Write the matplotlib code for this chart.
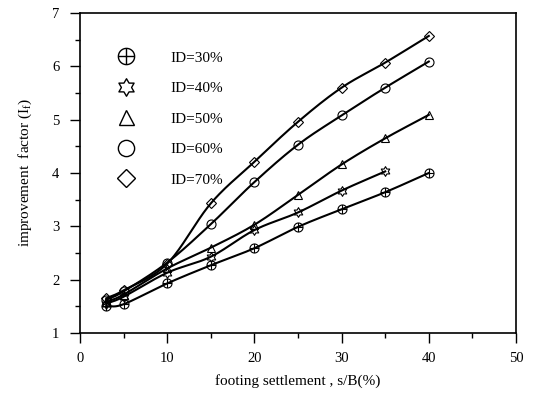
import numpy as np
import matplotlib
matplotlib.use("Agg")
import matplotlib.pyplot as plt
from matplotlib.path import Path
from matplotlib.lines import Line2D
from matplotlib.ticker import MultipleLocator

plt.rcParams['font.family'] = ['Liberation Serif', 'DejaVu Serif']
plt.rcParams['mathtext.fontset'] = 'custom'
plt.rcParams['mathtext.rm'] = 'Liberation Serif'
plt.rcParams['mathtext.it'] = 'Liberation Serif'

# ---- data ----
settlement = [3, 5, 10, 15, 20, 25, 30, 35, 40]
id30 = [1.50, 1.54, 1.93, 2.27, 2.59, 2.99, 3.32, 3.64, 4.00]
id40_x = [3, 5, 10, 15, 20, 25, 30, 35]
id40 = [1.55, 1.68, 2.13, 2.43, 2.93, 3.26, 3.67, 4.03]
id50 = [1.58, 1.72, 2.21, 2.60, 3.03, 3.59, 4.16, 4.65, 5.09]
id60 = [1.62, 1.78, 2.32, 3.04, 3.83, 4.53, 5.08, 5.60, 6.09]
id70 = [1.65, 1.80, 2.30, 3.43, 4.21, 4.96, 5.60, 6.07, 6.57]
labels = ["ID=30%", "ID=40%", "ID=50%", "ID=60%", "ID=70%"]

# ---- custom markers ----
t = np.linspace(0, 2 * np.pi, 60)
circ = np.column_stack([np.cos(t), np.sin(t)])
verts = list(circ) + [(-1, 0), (1, 0), (0, -1), (0, 1)]
codes = [Path.MOVETO] + [Path.LINETO] * (len(circ) - 1) + [Path.MOVETO, Path.LINETO, Path.MOVETO, Path.LINETO]
oplus = Path(verts, codes)

ang = np.pi / 2 + np.arange(12) * np.pi / 6
rad = np.where(np.arange(12) % 2 == 0, 1.0, 0.58)
hv = np.column_stack([rad * np.cos(ang), rad * np.sin(ang)])
hv = np.vstack([hv, hv[:1]])
hexagram = Path(hv, [Path.MOVETO] + [Path.LINETO] * 11 + [Path.CLOSEPOLY])


def smooth(x, y, n=30):
    x = np.asarray(x, float)
    y = np.asarray(y, float)
    P = np.column_stack([x, y])
    P = np.vstack([2 * P[0] - P[1], P, 2 * P[-1] - P[-2]])
    out = []
    for i in range(1, len(P) - 2):
        p0, p1, p2, p3 = P[i - 1], P[i], P[i + 1], P[i + 2]
        s = np.linspace(0, 1, n, endpoint=False)[:, None]
        c = 0.5 * ((2 * p1) + (-p0 + p2) * s + (2 * p0 - 5 * p1 + 4 * p2 - p3) * s ** 2
                   + (-p0 + 3 * p1 - 3 * p2 + p3) * s ** 3)
        out.append(c)
    out.append(P[-2][None, :])
    out = np.vstack(out)
    return out[:, 0], out[:, 1]


fig = plt.figure(figsize=(5.36, 4.03), dpi=100)
ax = fig.add_axes([80 / 536, 1 - 333 / 403, 436 / 536, 320 / 403])

series = [
    (settlement, id30, oplus, 6.5),
    (id40_x, id40, hexagram, 7),
    (settlement, id50, '^', 6),
    (settlement, id60, 'o', 6.5),
    (settlement, id70, 'D', 5),
]
handles = []
for (xs, ys, m, ms), lab in zip(series, labels):
    sx, sy = smooth(xs, ys)
    ax.plot(sx, sy, color='black', lw=1.5)
    ax.plot(xs, ys, linestyle='none', marker=m, markersize=ms, markerfacecolor='none',
            markeredgecolor='black', markeredgewidth=0.8)
    handles.append(Line2D([], [], linestyle='none', marker=m, markersize=ms * 1.8 if m != 'D' else ms * 1.9,
                          markerfacecolor='none', markeredgecolor='black', markeredgewidth=1.0))

ax.set_xlim(0, 50)
ax.set_ylim(1, 7)
ax.xaxis.set_major_locator(MultipleLocator(10))
ax.xaxis.set_minor_locator(MultipleLocator(5))
ax.yaxis.set_major_locator(MultipleLocator(1))
ax.yaxis.set_minor_locator(MultipleLocator(0.5))
ax.tick_params(which='major', direction='out', length=7, width=1, labelsize=10.5, pad=8)
ax.tick_params(which='minor', direction='out', length=3.5, width=1)
ax.tick_params(axis='x', which='major', pad=7)
for sp in ax.spines.values():
    sp.set_linewidth(1.2)

ax.set_xlabel('footing settlement , s/B(%)', fontsize=11, labelpad=6)
ax.set_ylabel(r'improvement  factor (I$_{\mathregular{f}}$)', fontsize=11, labelpad=13)

leg = ax.legend(handles, labels, loc='upper left', frameon=False, fontsize=11,
                handlelength=1.0, handletextpad=2.35, labelspacing=1.1,
                bbox_to_anchor=(0.075, 0.90), borderaxespad=0)

fig.savefig('out.png', dpi=100)
